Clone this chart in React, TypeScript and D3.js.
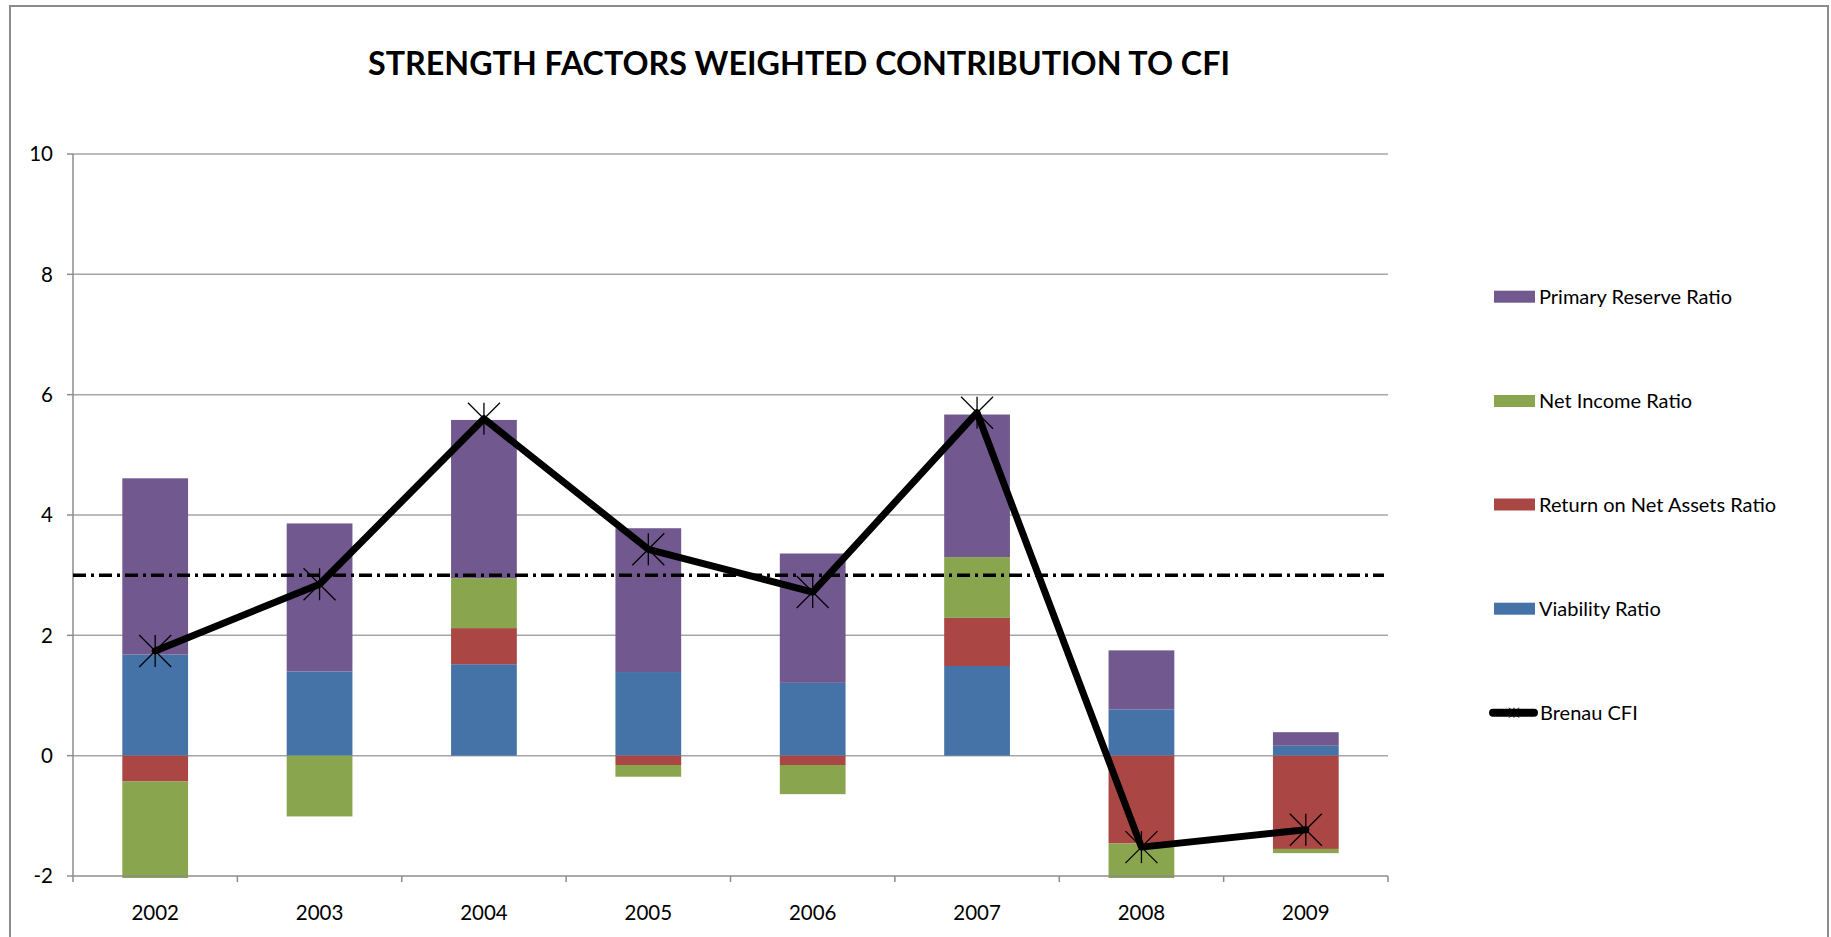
import React from "react";
import * as d3 from "d3";

const years = ["2002", "2003", "2004", "2005", "2006", "2007", "2008", "2009"];
const viabilityRatio = [1.68, 1.4, 1.52, 1.39, 1.21, 1.49, 0.77, 0.165];
const returnOnNetAssetsRatio = [-0.43, 0, 0.6, -0.155, -0.155, 0.8, -1.46, -1.55];
const netIncomeRatio = [-2.44, -1.01, 0.83, -0.195, -0.485, 1.01, -1.81, -0.07];
const primaryReserveRatio = [2.93, 2.46, 2.63, 2.39, 2.15, 2.37, 0.98, 0.225];
const brenauCFI = [1.74, 2.85, 5.6, 3.43, 2.72, 5.7, -1.52, -1.23];
const threshold = 3;
const yTicks = [-2, 0, 2, 4, 6, 8, 10];

const seriesKeys = ["viability", "rna", "netIncome", "primaryReserve"];
const seriesNames: Record<string, string> = {
  viability: "Viability Ratio",
  rna: "Return on Net Assets Ratio",
  netIncome: "Net Income Ratio",
  primaryReserve: "Primary Reserve Ratio",
};
const seriesColors: Record<string, string> = {
  viability: "#4572A7",
  rna: "#AA4643",
  netIncome: "#89A54E",
  primaryReserve: "#71588F",
};

const W = 1831;
const H = 937;
const plot = { left: 73, right: 1388, top: 154, bottom: 876 };
const FONT = "Lato, 'Open Sans', sans-serif";

export default function App() {
  const rows = years.map((y, i) => ({
    year: y,
    viability: viabilityRatio[i],
    rna: returnOnNetAssetsRatio[i],
    netIncome: netIncomeRatio[i],
    primaryReserve: primaryReserveRatio[i],
  }));
  const stacked = d3
    .stack<any>()
    .keys(seriesKeys)
    .offset(d3.stackOffsetDiverging)(rows);

  const x = d3.scaleBand<string>().domain(years).range([plot.left, plot.right]).padding(0);
  const y = d3.scaleLinear().domain([-2, 10]).range([plot.bottom, plot.top]);
  const bw = x.bandwidth() * 0.4;
  const cx = (yr: string) => (x(yr) as number) + x.bandwidth() / 2;

  const line = d3
    .line<number>()
    .x((_, i) => cx(years[i]))
    .y((d) => y(d));

  const star = (px: number, py: number, r: number, sw: number, key: string) => (
    <g key={key} stroke="#000" strokeWidth={sw}>
      <line x1={px - r} y1={py - r} x2={px + r} y2={py + r} />
      <line x1={px - r} y1={py + r} x2={px + r} y2={py - r} />
      <line x1={px} y1={py - r} x2={px} y2={py + r} />
    </g>
  );

  const legendItems = ["primaryReserve", "netIncome", "rna", "viability"];
  const legendY = [296.7, 401, 504.5, 608.7];
  const cfiLegendY = 712.7;

  const boundaries = years.map((yr) => x(yr) as number).concat([plot.right]);

  return (
    <svg
      width={W}
      height={H}
      style={{ position: "absolute", left: 0, top: 0, display: "block", background: "#fff" }}
    >
      <defs>
        <clipPath id="plotClip">
          <rect x={plot.left} y={plot.top - 40} width={plot.right - plot.left} height={plot.bottom - plot.top + 42} />
        </clipPath>
      </defs>
      <rect x={10} y={6} width={1818} height={1000} fill="#fff" stroke="#8c8c8c" strokeWidth={2} />

      <text
        x={799}
        y={75}
        textAnchor="middle"
        fontFamily={FONT}
        fontWeight="bold"
        fontSize={32}
        textLength={862}
        lengthAdjust="spacingAndGlyphs"
        fill="#000"
      >
        STRENGTH FACTORS WEIGHTED CONTRIBUTION TO CFI
      </text>

      {/* gridlines */}
      {yTicks.filter((t) => t > -2).map((t) => (
        <line key={"g" + t} x1={plot.left} x2={plot.right} y1={y(t)} y2={y(t)} stroke="#a6a6a6" strokeWidth={1.5} />
      ))}

      {/* bars */}
      <g clipPath="url(#plotClip)">
        {stacked.map((s) =>
          s.map((d, i) => {
            const y0 = y(d[0]);
            const y1 = y(d[1]);
            const top = Math.min(y0, y1);
            const h = Math.abs(y1 - y0);
            if (h < 0.01) return null;
            return (
              <rect
                key={s.key + i}
                x={cx(years[i]) - bw / 2}
                y={top}
                width={bw}
                height={h}
                fill={seriesColors[s.key]}
              />
            );
          })
        )}
      </g>

      {/* axes */}
      <line x1={plot.left} x2={plot.left} y1={plot.top} y2={plot.bottom} stroke="#8c8c8c" strokeWidth={1.5} />
      {yTicks.map((t) => (
        <line key={"yt" + t} x1={plot.left - 6} x2={plot.left} y1={y(t)} y2={y(t)} stroke="#8c8c8c" strokeWidth={1.5} />
      ))}
      <line x1={plot.left} x2={plot.right} y1={plot.bottom} y2={plot.bottom} stroke="#8c8c8c" strokeWidth={1.5} />
      {boundaries.map((bx, i) => (
        <line key={"xt" + i} x1={bx} x2={bx} y1={plot.bottom} y2={plot.bottom + 6} stroke="#8c8c8c" strokeWidth={1.5} />
      ))}

      {yTicks.map((t) => (
        <text
          key={"yl" + t}
          x={53}
          y={y(t)}
          dy="0.35em"
          textAnchor="end"
          fontFamily={FONT}
          fontSize={20.5}
          fill="#000"
        >
          {t}
        </text>
      ))}
      {years.map((yr) => (
        <text key={"xl" + yr} x={cx(yr)} y={920} textAnchor="middle" fontFamily={FONT} fontSize={20.5} fill="#000">
          {yr}
        </text>
      ))}

      {/* threshold */}
      <line
        x1={plot.left}
        x2={plot.right - 4}
        y1={y(threshold)}
        y2={y(threshold)}
        stroke="#000"
        strokeWidth={3.5}
        strokeDasharray="13 5 3 5"
      />

      {/* CFI line */}
      <path
        d={line(brenauCFI) || ""}
        fill="none"
        stroke="#000"
        strokeWidth={7}
        strokeLinejoin="round"
        strokeLinecap="round"
      />
      {brenauCFI.map((v, i) => star(cx(years[i]), y(v), 16, 1.3, "m" + i))}

      {/* legend */}
      {legendItems.map((k, i) => (
        <g key={"lg" + k}>
          <rect x={1494} y={legendY[i] - 6} width={41} height={12} fill={seriesColors[k]} />
          <text x={1539} y={legendY[i]} dy="0.35em" fontFamily={FONT} fontSize={20} fill="#000">
            {seriesNames[k]}
          </text>
        </g>
      ))}
      <line x1={1493} x2={1534} y1={cfiLegendY} y2={cfiLegendY} stroke="#000" strokeWidth={8} strokeLinecap="round" />
      {star(1514, cfiLegendY, 5, 1, "lgstar")}
      <text x={1540} y={cfiLegendY} dy="0.35em" fontFamily={FONT} fontSize={20} fill="#000">
        Brenau CFI
      </text>
    </svg>
  );
}
